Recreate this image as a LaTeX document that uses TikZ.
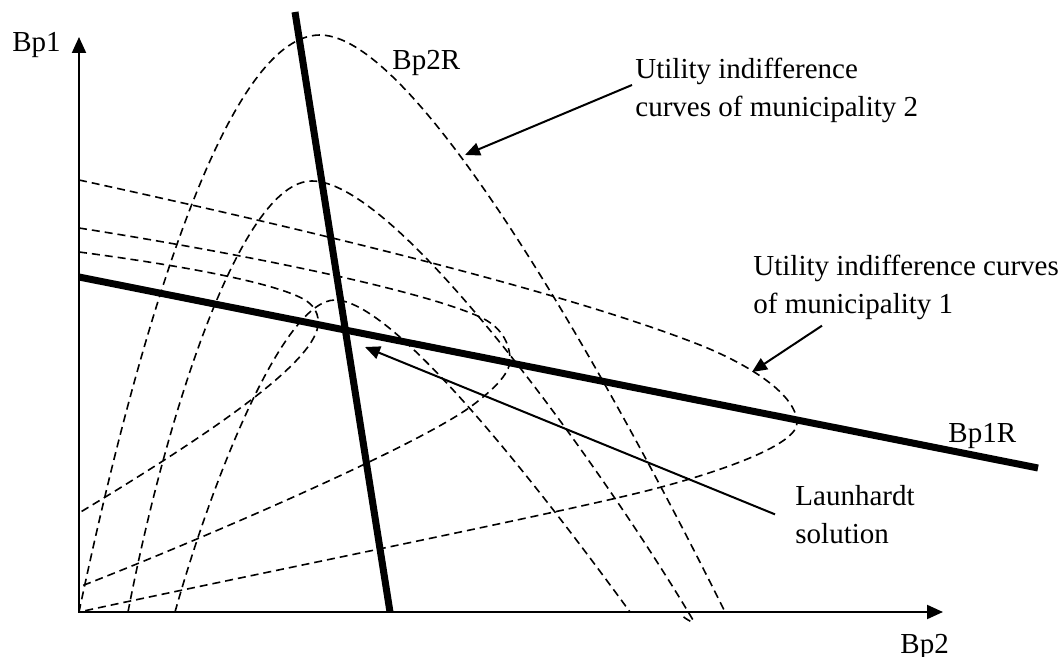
\documentclass[tikz,border=0pt]{standalone}
\usepackage{fontspec}
\setmainfont{Liberation Serif}
\usetikzlibrary{arrows.meta}

\begin{document}
\begin{tikzpicture}[x=0.5pt,y=-0.5pt,
                    font=\fontsize{14.5pt}{18.75pt}\selectfont,
                    axis/.style={line width=1pt,{Triangle[length=8pt,width=7pt]}-{Triangle[length=8pt,width=7pt]}},
                    reaction/.style={line width=3.5pt},
                    indiff/.style={line width=0.8pt,dash pattern=on 4pt off 2.5pt},
                    pointer/.style={line width=1pt,-{Triangle[length=7.5pt,width=6.5pt]}},
                    lbl/.style={inner sep=0pt}]
                                    \useasboundingbox (0,0) rectangle (1064,657);

                                    % Draw the axes
                                    \coordinate (O) at (79,612);
                                    \coordinate (ytop) at (79,37);
                                    \coordinate (xend) at (943,612);
                                    \draw[axis] (ytop) -- (O) -- (xend);
                                    \node[lbl,anchor=base west] (bpone) at (12,52) {Bp1};
                                    \node[lbl,anchor=base west] (bptwo) at (900,653) {Bp2};

                                    % Draw indifference curves of municipality 2
                                    \draw[indiff] (O) .. controls (130,370) and (220,35) .. (320,35)
                                                      .. controls (420,35) and (620,400) .. (725,612);
                                    \draw[indiff] (128,612) .. controls (165,420) and (240,181) .. (312,181)
                                                            .. controls (400,181) and (610,480) .. (693,620)
                                                            .. controls (695,624) and (688,621) .. (680,614);
                                    \draw[indiff] (175,612) .. controls (215,470) and (285,300) .. (335,300)
                                                            .. controls (400,300) and (570,530) .. (630,612);

                                    % Draw indifference curves of municipality 1
                                    \draw[indiff] (79,180) .. controls (300,228) and (560,290) .. (700,345)
                                                           .. controls (750,365) and (797,395) .. (797,423)
                                                           .. controls (797,445) and (720,472) .. (650,490)
                                                           .. controls (560,513) and (250,575) .. (O);
                                    \draw[indiff] (79,228) .. controls (250,255) and (420,290) .. (480,317)
                                                           .. controls (500,326) and (510,342) .. (510,360)
                                                           .. controls (510,375) and (490,392) .. (473,405)
                                                           .. controls (420,445) and (200,540) .. (79,587);
                                    \draw[indiff] (79,252) .. controls (200,268) and (280,285) .. (305,300)
                                                           .. controls (318,308) and (320,320) .. (317,330)
                                                           .. controls (305,370) and (200,440) .. (79,513);

                                    % Draw the reaction lines
                                    \coordinate (rtwoa) at (295,12);
                                    \coordinate (rtwob) at (390,612);
                                    \coordinate (ronea) at (79,277);
                                    \coordinate (roneb) at (1038,468);
                                    \draw[reaction] (rtwoa) -- (rtwob);
                                    \draw[reaction] (ronea) -- (roneb);
                                    \node[lbl,anchor=base west] (bptwor) at (392,70) {Bp2R};
                                    \node[lbl,anchor=base west] (bponer) at (948,442) {Bp1R};

                                    % Draw labels and pointers
                                    \node[lbl,anchor=north west,align=left] (utiltwo) at (635,58) {Utility indifference\\curves of municipality 2};
                                    \node[lbl,anchor=north west,align=left] (utilone) at (753,255) {Utility indifference curves\\of municipality 1};
                                    \node[lbl,anchor=north west,align=left] (launhardt) at (795,485) {Launhardt\\solution};
                                    \coordinate (tiptwo) at (465,155);
                                    \coordinate (tipone) at (752,372);
                                    \coordinate (tipsol) at (365,347);
                                    \draw[pointer] ([xshift=-1.5pt,yshift=2.75pt]utiltwo.west) -- (tiptwo);
                                    \draw[pointer] ([xshift=34.5pt,yshift=-2.85pt]utilone.south west) -- (tipone);
                                    \draw[pointer] ([xshift=-10pt]launhardt.west) -- (tipsol);
                              \end{tikzpicture}
\end{document}
